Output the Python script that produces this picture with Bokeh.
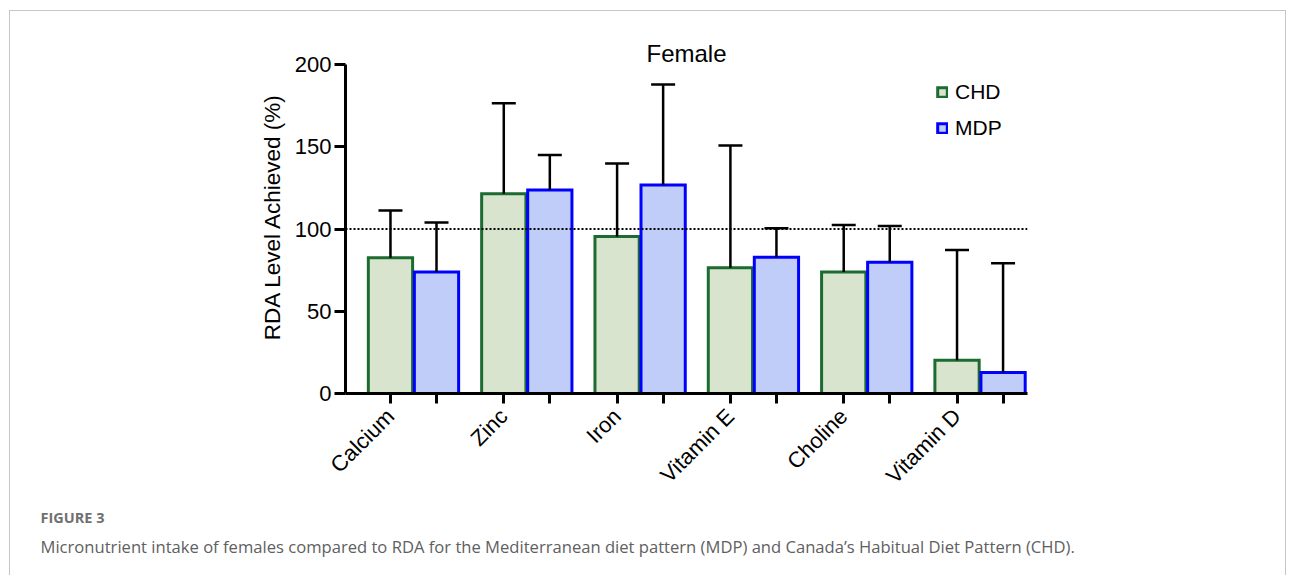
from bokeh.plotting import figure
from bokeh.models import (Range1d, ColumnDataSource, Whisker, TeeHead, Span, Label,
                          Legend, LegendItem, FixedTicker, Title)
from bokeh.embed import file_html
from bokeh.resources import INLINE

# ---------------- data ----------------
categories = ["Calcium", "Zinc", "Iron", "Vitamin E", "Choline", "Vitamin D"]
chd_mean = [82.5, 121.5, 95.5, 76.5, 73.8, 20.2]
chd_sd = [28.8, 55.0, 44.3, 74.2, 28.6, 67.1]
mdp_mean = [73.8, 123.7, 126.7, 82.8, 79.8, 12.8]
mdp_sd = [30.2, 21.3, 61.2, 17.6, 22.0, 66.4]
rda_reference = 100
y_ticks = [0, 50, 100, 150, 200]

title_text = "Female"
y_label = "RDA Level Achieved (%)"
fig_label = "FIGURE 3"
caption = ("Micronutrient intake of females compared to RDA for the Mediterranean diet "
           "pattern (MDP) and Canada\u2019s Habitual Diet Pattern (CHD).")

# ---------------- layout constants ----------------
GROUP = 32.0
OFFSET = 6.5
BAR_W = 12.5
FONT = "Liberation Sans"
W = 1277

chd_x = [GROUP * i - OFFSET for i in range(len(categories))]
mdp_x = [GROUP * i + OFFSET for i in range(len(categories))]

chd_src = ColumnDataSource(dict(x=chd_x, top=chd_mean,
                                upper=[m + s for m, s in zip(chd_mean, chd_sd)]))
mdp_src = ColumnDataSource(dict(x=mdp_x, top=mdp_mean,
                                upper=[m + s for m, s in zip(mdp_mean, mdp_sd)]))

p = figure(width=W, height=565,
           x_range=Range1d(-19.2, GROUP * (len(categories) - 1) + 13.4),
           y_range=Range1d(0, 215.2),
           output_backend="svg", toolbar_location=None,
           min_border_left=335, min_border_right=260,
           min_border_top=28, min_border_bottom=183)
p.styles = {"margin-left": "9px", "margin-top": "10px",
            "border-top": "1px solid #c6c6c6",
            "border-left": "1px solid #c6c6c6",
            "border-right": "1px solid #c6c6c6"}
p.grid.visible = False
p.outline_line_color = None
p.background_fill_color = "white"
p.border_fill_color = "white"

# reference line
p.add_layout(Span(location=rda_reference, dimension="width", line_color="black",
                  line_width=2, line_dash="2 2"))

# error bars (upper only)
for src in (chd_src, mdp_src):
    p.add_layout(Whisker(source=src, base="x", lower="top", upper="upper",
                         line_color="black", line_width=2.5,
                         upper_head=TeeHead(size=24, line_color="black", line_width=2.5),
                         lower_head=None, level="glyph"))

r_chd = p.vbar(x="x", top="top", bottom=0, width=BAR_W, source=chd_src,
               fill_color="#d8e4cd", line_color="#1c6b30", line_width=3,
               line_join="miter")
r_mdp = p.vbar(x="x", top="top", bottom=0, width=BAR_W, source=mdp_src,
               fill_color="#c0cdf9", line_color="#0000ff", line_width=3,
               line_join="miter")

# axes
ya = p.yaxis[0]
ya.ticker = FixedTicker(ticks=y_ticks)
ya.bounds = (0, 200)
ya.axis_line_width = 3
ya.major_tick_line_width = 3
ya.major_tick_out = 11
ya.major_tick_in = 0
ya.minor_tick_line_color = None
ya.major_label_text_font = FONT
ya.major_label_text_font_size = "22px"
ya.major_label_text_color = "black"
ya.major_label_standoff = 3
ya.axis_label = y_label
ya.axis_label_text_font = FONT
ya.axis_label_text_font_size = "22.5px"
ya.axis_label_text_font_style = "normal"
ya.axis_label_text_color = "black"
ya.axis_label_standoff = 7

xa = p.xaxis[0]
all_x = sorted(chd_x + mdp_x)
xa.ticker = FixedTicker(ticks=all_x)
overrides = {x: "" for x in mdp_x}
overrides.update({x: c for x, c in zip(chd_x, categories)})
xa.major_label_overrides = overrides
xa.axis_line_width = 3
xa.major_tick_line_width = 3
xa.major_tick_out = 10
xa.major_tick_in = 0
xa.minor_tick_line_color = None
xa.major_label_orientation = 0.7854
xa.major_label_text_font = FONT
xa.major_label_text_font_size = "22px"
xa.major_label_text_color = "black"
xa.major_label_standoff = 9

# title (inside the frame, above the y-axis bound)
p.add_layout(Label(x=(p.x_range.start + p.x_range.end) / 2, y=200, y_offset=11,
                   text=title_text, text_align="center", text_baseline="alphabetic",
                   text_font=FONT, text_font_size="24px", text_color="black"))

# legend
legend = Legend(items=[LegendItem(label="CHD", renderers=[r_chd]),
                       LegendItem(label="MDP", renderers=[r_mdp])],
                location=(591, 253), orientation="vertical",
                glyph_width=12, glyph_height=12, label_standoff=7,
                label_text_font=FONT, label_text_font_size="21px",
                label_text_color="black",
                spacing=12, padding=0, margin=0,
                border_line_color=None, background_fill_alpha=0)
p.add_layout(legend)

# caption (below the axis)
p.add_layout(Title(text=fig_label, align="left", offset=-305, standoff=11,
                   text_font="Open Sans", text_font_size="14.5px",
                   text_font_style="bold", text_color="#707070"), "below")
p.add_layout(Title(text=caption, align="left", offset=-305, standoff=1,
                   text_font="Open Sans", text_font_size="16.6px",
                   text_font_style="normal", text_color="#606060"), "below")

open("out.html", "w").write(file_html(p, INLINE))
